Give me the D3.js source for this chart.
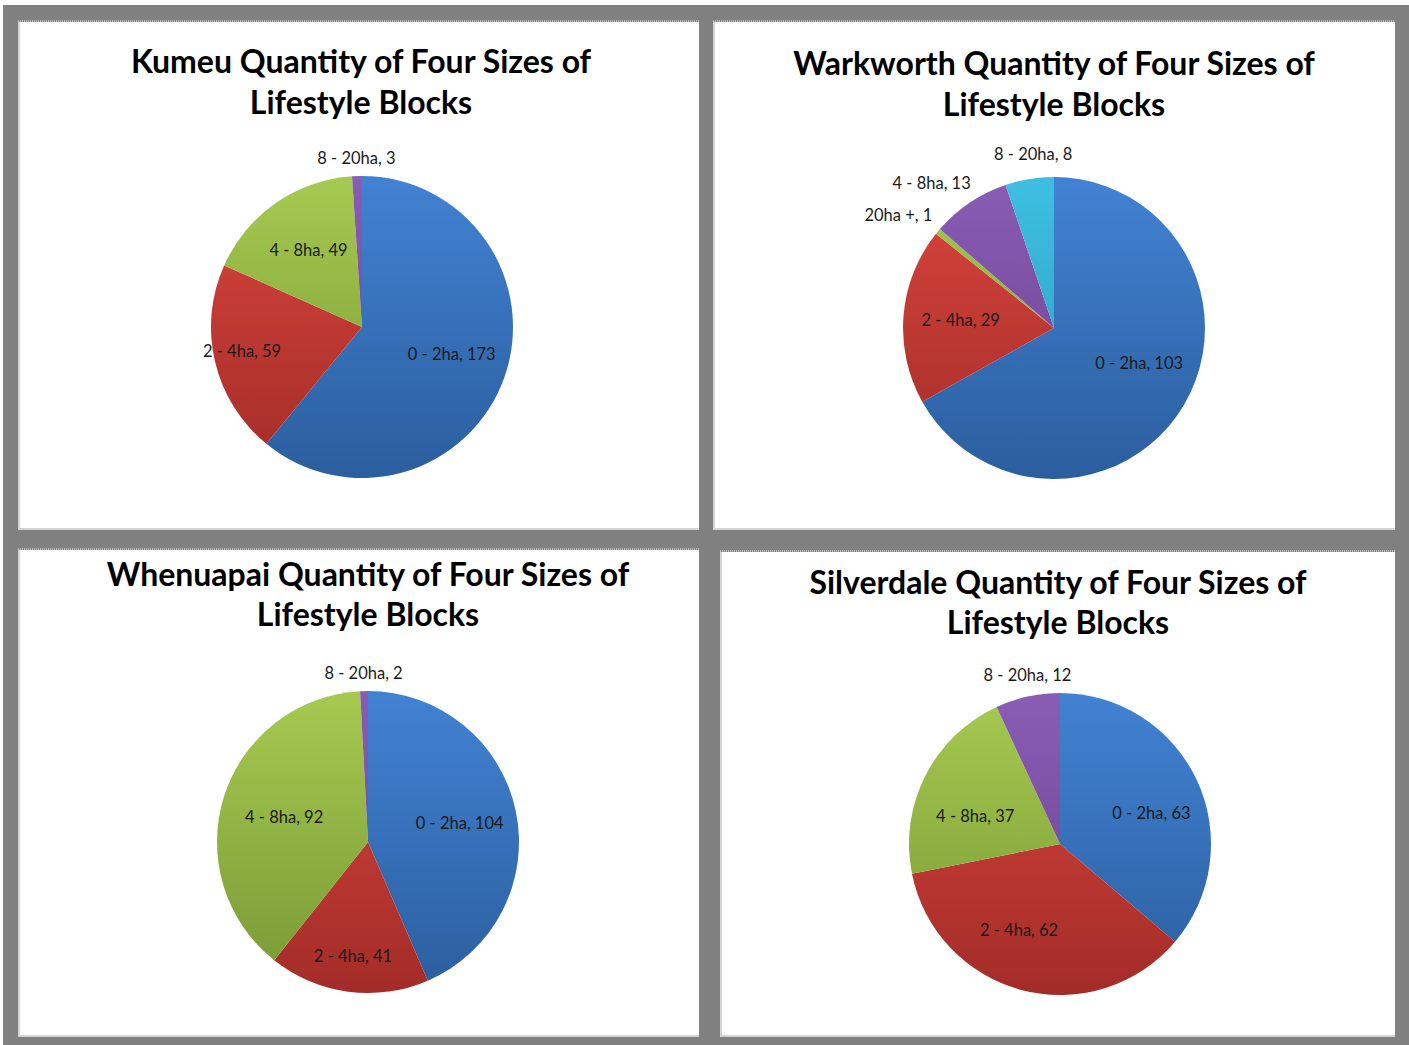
<!DOCTYPE html>
<html>
<head>
<meta charset="utf-8">
<script src="https://cdn.jsdelivr.net/npm/d3@7"></script>
<style>
  html, body { margin: 0; padding: 0; background: #fff; }
  svg { display: block; }
</style>
</head>
<body>
<svg id="chart" width="1409" height="1045"></svg>
<script>
// ---------- DATA ----------
const titlesKumeu = ["Kumeu Quantity of Four Sizes of", "Lifestyle Blocks"];
const categoriesKumeu = ["0 - 2ha", "2 - 4ha", "4 - 8ha", "8 - 20ha"];
const valuesKumeu = [173, 59, 49, 3];

const titlesWarkworth = ["Warkworth Quantity of Four Sizes of", "Lifestyle Blocks"];
const categoriesWarkworth = ["0 - 2ha", "2 - 4ha", "20ha +", "4 - 8ha", "8 - 20ha"];
const valuesWarkworth = [103, 29, 1, 13, 8];

const titlesWhenuapai = ["Whenuapai Quantity of Four Sizes of", "Lifestyle Blocks"];
const categoriesWhenuapai = ["0 - 2ha", "2 - 4ha", "4 - 8ha", "8 - 20ha"];
const valuesWhenuapai = [104, 41, 92, 2];

const titlesSilverdale = ["Silverdale Quantity of Four Sizes of", "Lifestyle Blocks"];
const categoriesSilverdale = ["0 - 2ha", "2 - 4ha", "4 - 8ha", "8 - 20ha"];
const valuesSilverdale = [63, 62, 37, 12];

// ---------- STYLE / LAYOUT ----------
const sliceColors = [
  ["#4282d3", "#2b5e9e"], // blue
  ["#d9453d", "#a32c28"], // red
  ["#a6ca51", "#789834"], // green
  ["#8a5db5", "#683f8e"], // purple
  ["#3ebfe1", "#2a9bbd"]  // cyan
];
const R = 151;

// label placement tweaks (radius factor r, angle shift a in degrees)
const charts = [
  { titles: titlesKumeu, cats: categoriesKumeu, vals: valuesKumeu,
    panel: [18, 22, 681, 508], cx: 362, cy: 327, tx: 361, ty: [73, 114],
    labelAdj: { "0 - 2ha": { r: 0.62, a: -3 }, "2 - 4ha": { r: 0.81, a: 2 } } },
  { titles: titlesWarkworth, cats: categoriesWarkworth, vals: valuesWarkworth,
    panel: [713, 22, 682, 508], cx: 1054, cy: 328, tx: 1054, ty: [75, 116],
    labelAdj: { "0 - 2ha": { r: 0.61, a: -8 }, "20ha +": { r: 1.097, a: 3 },
                "4 - 8ha": { r: 1.106, a: 4 }, "8 - 20ha": { r: 1.16, a: 2.5 } } },
  { titles: titlesWhenuapai, cats: categoriesWhenuapai, vals: valuesWhenuapai,
    panel: [18, 550, 681, 487], cx: 368, cy: 842, tx: 368, ty: [586, 626],
    labelAdj: { "2 - 4ha": { r: 0.76, a: 0 }, "4 - 8ha": { r: 0.58, a: -1 } } },
  { titles: titlesSilverdale, cats: categoriesSilverdale, vals: valuesSilverdale,
    panel: [720, 552, 675, 485], cx: 1060, cy: 844, tx: 1058, ty: [594, 634],
    labelAdj: { "0 - 2ha": { r: 0.64, a: 6 }, "2 - 4ha": { r: 0.63, a: 11 },
                "4 - 8ha": { r: 0.59, a: -9 }, "8 - 20ha": { r: 1.14, a: 1.5 } } }
];

const svg = d3.select("#chart");

const defs = svg.append("defs");
sliceColors.forEach((c, i) => {
  const g = defs.append("linearGradient")
    .attr("id", "grad" + i)
    .attr("gradientUnits", "userSpaceOnUse")
    .attr("x1", 0).attr("y1", -R).attr("x2", 0).attr("y2", R);
  g.append("stop").attr("offset", "0%").attr("stop-color", c[0]);
  g.append("stop").attr("offset", "100%").attr("stop-color", c[1]);
});

svg.append("rect").attr("x", 3).attr("y", 5).attr("width", 1406).attr("height", 1040)
  .attr("fill", "#808080");

const pie = d3.pie().sort(null).value(d => d.v);
const arc = d3.arc().innerRadius(0).outerRadius(R);

charts.forEach(ch => {
  const [px, py, pw, ph] = ch.panel;
  svg.append("rect").attr("x", px).attr("y", py).attr("width", pw).attr("height", ph)
    .attr("fill", "#ffffff");
  svg.append("line").attr("x1", px + 1).attr("x2", px + 1).attr("y1", py).attr("y2", py + ph)
    .attr("stroke", "#d4d4d4").attr("stroke-width", 2);
  svg.append("line").attr("x1", px).attr("x2", px + pw).attr("y1", py + ph - 1).attr("y2", py + ph - 1)
    .attr("stroke", "#d4d4d4").attr("stroke-width", 2);
  svg.append("line").attr("x1", px).attr("x2", px + pw).attr("y1", py - 1).attr("y2", py - 1)
    .attr("stroke", "#bdbdbd").attr("stroke-width", 2).attr("stroke-dasharray", "1,1");

  const t = svg.append("text")
    .attr("text-anchor", "middle")
    .attr("font-family", "Lato, 'Open Sans', sans-serif")
    .attr("font-weight", "bold")
    .attr("font-size", 32)
    .attr("fill", "#000");
  ch.titles.forEach((line, i) => {
    t.append("tspan").attr("x", ch.tx).attr("y", ch.ty[i]).text(line);
  });

  const data = ch.cats.map((c, i) => ({ c, v: ch.vals[i], i }));
  const total = d3.sum(ch.vals);
  const arcs = pie(data);
  const g = svg.append("g").attr("transform", `translate(${ch.cx},${ch.cy})`);

  g.selectAll("path.slice").data(arcs).join("path")
    .attr("class", "slice")
    .attr("d", arc)
    .attr("fill", d => `url(#grad${d.data.i})`);

  g.selectAll("text.lbl").data(arcs).join("text")
    .attr("class", "lbl")
    .attr("font-family", "Lato, 'Open Sans', sans-serif")
    .attr("font-size", 16.5)
    .attr("fill", "#1a1a1a")
    .attr("dy", "0.35em")
    .each(function(d) {
      const adj = ch.labelAdj[d.data.c];
      const mid = (d.startAngle + d.endAngle) / 2 + (adj ? adj.a : 0) * Math.PI / 180;
      const s = Math.sin(mid), c = Math.cos(mid);
      const frac = d.data.v / total;
      let rr, anchor;
      if (frac < 0.1) {
        rr = adj ? R * adj.r : R + 18;
        anchor = Math.abs(s) < 0.3 ? "middle" : (s < 0 ? "end" : "start");
      } else {
        rr = R * (adj ? adj.r : 0.62);
        anchor = "middle";
      }
      d3.select(this)
        .attr("x", s * rr)
        .attr("y", -c * rr)
        .attr("text-anchor", anchor)
        .text(`${d.data.c}, ${d.data.v}`);
    });
});
</script>
</body>
</html>
